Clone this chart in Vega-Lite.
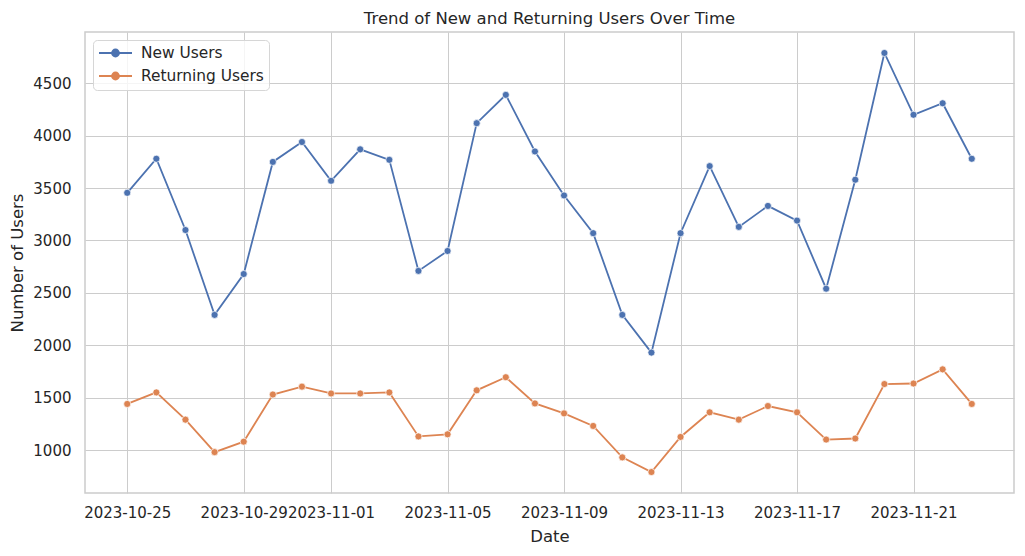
{
  "$schema": "https://vega.github.io/schema/vega-lite/v6.json",
  "width": 929,
  "height": 461,
  "autosize": "none",
  "padding": {"left": 85, "top": 32, "right": 11, "bottom": 63},
  "background": "white",
  "config": {
    "font": "DejaVu Sans",
    "view": {"stroke": "#cccccc", "strokeWidth": 1.5},
    "axis": {
      "domain": false,
      "ticks": false,
      "grid": true,
      "gridColor": "#cccccc",
      "gridWidth": 1,
      "labelFont": "DejaVu Sans",
      "labelFontSize": 15,
      "labelColor": "#262626",
      "titleFont": "DejaVu Sans",
      "titleFontSize": 16.5,
      "titleFontWeight": "normal",
      "titleColor": "#262626"
    },
    "title": {"font": "DejaVu Sans", "fontSize": 16.5, "fontWeight": "normal", "color": "#262626"}
  },
  "title": {"text": "Trend of New and Returning Users Over Time", "anchor": "middle", "offset": 5},
  "data": {
    "values": [
      {"date": "2023-10-25", "users": 3455, "type": "New Users"},
      {"date": "2023-10-26", "users": 3780, "type": "New Users"},
      {"date": "2023-10-27", "users": 3100, "type": "New Users"},
      {"date": "2023-10-28", "users": 2290, "type": "New Users"},
      {"date": "2023-10-29", "users": 2680, "type": "New Users"},
      {"date": "2023-10-30", "users": 3750, "type": "New Users"},
      {"date": "2023-10-31", "users": 3940, "type": "New Users"},
      {"date": "2023-11-01", "users": 3570, "type": "New Users"},
      {"date": "2023-11-02", "users": 3870, "type": "New Users"},
      {"date": "2023-11-03", "users": 3770, "type": "New Users"},
      {"date": "2023-11-04", "users": 2710, "type": "New Users"},
      {"date": "2023-11-05", "users": 2900, "type": "New Users"},
      {"date": "2023-11-06", "users": 4120, "type": "New Users"},
      {"date": "2023-11-07", "users": 4390, "type": "New Users"},
      {"date": "2023-11-08", "users": 3850, "type": "New Users"},
      {"date": "2023-11-09", "users": 3430, "type": "New Users"},
      {"date": "2023-11-10", "users": 3070, "type": "New Users"},
      {"date": "2023-11-11", "users": 2290, "type": "New Users"},
      {"date": "2023-11-12", "users": 1930, "type": "New Users"},
      {"date": "2023-11-13", "users": 3070, "type": "New Users"},
      {"date": "2023-11-14", "users": 3710, "type": "New Users"},
      {"date": "2023-11-15", "users": 3130, "type": "New Users"},
      {"date": "2023-11-16", "users": 3330, "type": "New Users"},
      {"date": "2023-11-17", "users": 3190, "type": "New Users"},
      {"date": "2023-11-18", "users": 2540, "type": "New Users"},
      {"date": "2023-11-19", "users": 3580, "type": "New Users"},
      {"date": "2023-11-20", "users": 4790, "type": "New Users"},
      {"date": "2023-11-21", "users": 4200, "type": "New Users"},
      {"date": "2023-11-22", "users": 4310, "type": "New Users"},
      {"date": "2023-11-23", "users": 3780, "type": "New Users"},
      {"date": "2023-10-25", "users": 1440, "type": "Returning Users"},
      {"date": "2023-10-26", "users": 1550, "type": "Returning Users"},
      {"date": "2023-10-27", "users": 1290, "type": "Returning Users"},
      {"date": "2023-10-28", "users": 980, "type": "Returning Users"},
      {"date": "2023-10-29", "users": 1080, "type": "Returning Users"},
      {"date": "2023-10-30", "users": 1530, "type": "Returning Users"},
      {"date": "2023-10-31", "users": 1605, "type": "Returning Users"},
      {"date": "2023-11-01", "users": 1540, "type": "Returning Users"},
      {"date": "2023-11-02", "users": 1540, "type": "Returning Users"},
      {"date": "2023-11-03", "users": 1550, "type": "Returning Users"},
      {"date": "2023-11-04", "users": 1130, "type": "Returning Users"},
      {"date": "2023-11-05", "users": 1150, "type": "Returning Users"},
      {"date": "2023-11-06", "users": 1570, "type": "Returning Users"},
      {"date": "2023-11-07", "users": 1695, "type": "Returning Users"},
      {"date": "2023-11-08", "users": 1445, "type": "Returning Users"},
      {"date": "2023-11-09", "users": 1350, "type": "Returning Users"},
      {"date": "2023-11-10", "users": 1230, "type": "Returning Users"},
      {"date": "2023-11-11", "users": 930, "type": "Returning Users"},
      {"date": "2023-11-12", "users": 790, "type": "Returning Users"},
      {"date": "2023-11-13", "users": 1125, "type": "Returning Users"},
      {"date": "2023-11-14", "users": 1360, "type": "Returning Users"},
      {"date": "2023-11-15", "users": 1290, "type": "Returning Users"},
      {"date": "2023-11-16", "users": 1420, "type": "Returning Users"},
      {"date": "2023-11-17", "users": 1360, "type": "Returning Users"},
      {"date": "2023-11-18", "users": 1100, "type": "Returning Users"},
      {"date": "2023-11-19", "users": 1110, "type": "Returning Users"},
      {"date": "2023-11-20", "users": 1630, "type": "Returning Users"},
      {"date": "2023-11-21", "users": 1635, "type": "Returning Users"},
      {"date": "2023-11-22", "users": 1770, "type": "Returning Users"},
      {"date": "2023-11-23", "users": 1440, "type": "Returning Users"}
    ]
  },
  "encoding": {
    "x": {
      "field": "date",
      "type": "temporal",
      "title": "Date",
      "scale": {
        "type": "utc",
        "domain": [
          {"year": 2023, "month": 10, "date": 23, "hours": 13, "minutes": 12, "utc": true},
          {"year": 2023, "month": 11, "date": 24, "hours": 10, "minutes": 48, "utc": true}
        ]
      },
      "axis": {
        "format": "%Y-%m-%d",
        "labelPadding": 12,
        "titlePadding": 8,
        "labelOverlap": false,
        "values": [
          {"year": 2023, "month": 10, "date": 25, "utc": true},
          {"year": 2023, "month": 10, "date": 29, "utc": true},
          {"year": 2023, "month": 11, "date": 1, "utc": true},
          {"year": 2023, "month": 11, "date": 5, "utc": true},
          {"year": 2023, "month": 11, "date": 9, "utc": true},
          {"year": 2023, "month": 11, "date": 13, "utc": true},
          {"year": 2023, "month": 11, "date": 17, "utc": true},
          {"year": 2023, "month": 11, "date": 21, "utc": true}
        ]
      }
    },
    "y": {
      "field": "users",
      "type": "quantitative",
      "title": "Number of Users",
      "scale": {"domain": [590, 4990], "nice": false, "zero": false},
      "axis": {
        "values": [1000, 1500, 2000, 2500, 3000, 3500, 4000, 4500],
        "format": "d",
        "labelPadding": 14,
        "titlePadding": 7
      }
    },
    "color": {
      "field": "type",
      "type": "nominal",
      "title": null,
      "scale": {"domain": ["New Users", "Returning Users"], "range": ["#4C72B0", "#DD8452"]},
      "legend": {
        "orient": "none",
        "legendX": 8,
        "legendY": 8,
        "padding": 5,
        "fillColor": "rgba(255,255,255,0.8)",
        "strokeColor": "#d6d6d6",
        "cornerRadius": 4,
        "labelFont": "DejaVu Sans",
        "labelFontSize": 15.4,
        "labelColor": "#262626",
        "symbolType": "M-1,0L3.714,0M1.857,0A0.5,0.5,0,1,1,0.857,0A0.5,0.5,0,1,1,1.857,0Z",
        "symbolSize": 196,
        "symbolStrokeWidth": 1.8,
        "symbolOpacity": 1,
        "rowPadding": 6,
        "labelOffset": 27
      }
    }
  },
  "layer": [
    {"mark": {"type": "line", "strokeWidth": 1.8}},
    {"mark": {"type": "point", "shape": "circle", "filled": true, "size": 50, "opacity": 1, "stroke": "white", "strokeWidth": 0.7}}
  ]
}
